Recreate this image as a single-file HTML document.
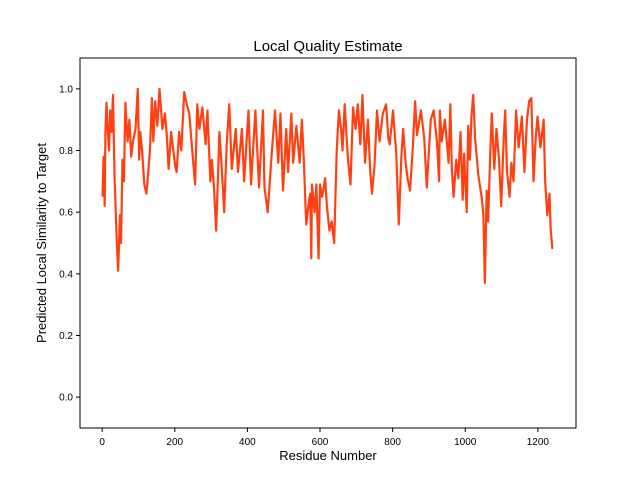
<!DOCTYPE html>
<html><head><meta charset="utf-8"><style>
body{margin:0;background:#fff}
svg{display:block;font-family:"Liberation Sans","DejaVu Sans",sans-serif}
</style></head><body>
<svg id="chart" width="640" height="480">
<rect width="640" height="480" fill="#fff"/>
<text x="328" y="51" font-size="15" text-anchor="middle">Local Quality Estimate</text>
<text x="328" y="460" font-size="13" text-anchor="middle">Residue Number</text>
<text x="46" y="243" font-size="13" text-anchor="middle" transform="rotate(-90 46 243)">Predicted Local Similarity to Target</text>
<g id="ticks"></g>
<g id="plot"></g>
<rect x="80" y="58" width="496" height="370" fill="none" stroke="#000" stroke-width="1"/>
</svg>
<script>
const residues=[1,4,7,9,12,15,19,22,26,30,34,37,40,44,49,52,56,60,64,70,75,80,85,92,98,102,105,110,116,122,127,132,137,141,146,152,158,166,173,178,183,190,201,205,212,218,226,233,240,246,256,262,268,276,285,290,298,302,308,314,323,329,336,343,350,357,368,374,385,391,403,410,416,422,432,443,447,456,467,476,485,491,498,507,512,521,526,535,544,550,555,562,570,573,576,578,585,
590,596,600,606,614,619,626,632,639,646,652,658,662,668,677,684,691,698,704,711,717,724,732,738,743,750,757,764,773,782,788,792,801,810,817,824,829,836,841,848,856,862,867,878,887,894,905,913,922,928,
930,935,944,954,959,963,968,975,981,987,993,997,1004,1008,1013,1017,1022,1027,1036,1045,1050,1054,1059,1063,1068,1073,1080,1086,1093,1099,1106,1110,1115,1122,1127,1133,1140,1147,1156,1163,1170,1176,1182,1188,1194,1199,1207,1216,1220,1226,1232,1235,1240,1243];
const scores=[0.65,0.78,0.62,0.86,0.955,0.87,0.8,0.93,0.86,0.98,0.72,0.62,0.51,0.41,0.59,0.5,0.77,0.7,0.955,0.83,0.9,0.78,0.83,0.87,1.0,0.77,0.86,0.8,0.69,0.66,0.73,0.81,0.97,0.83,0.96,0.88,1.0,0.87,0.92,0.85,0.74,0.86,0.75,0.73,0.86,0.8,0.99,0.95,0.92,0.83,0.69,0.95,0.87,0.94,0.82,0.93,0.7,0.77,0.68,0.54,0.86,0.75,0.6,0.82,0.95,0.74,0.87,0.73,0.87,0.7,0.93,0.69,0.81,0.93,0.68,0.93,0.68,0.6,0.79,0.93,0.76,0.92,0.67,0.87,0.73,0.92,0.76,0.88,0.76,0.9,0.78,0.56,0.64,0.66,0.45,0.69,0.6,
0.69,0.45,0.69,0.65,0.71,0.62,0.54,0.57,0.5,0.8,0.93,0.87,0.8,0.95,0.77,0.69,0.94,0.87,0.95,0.82,0.98,0.76,0.9,0.74,0.66,0.75,0.93,0.83,0.92,0.95,0.84,0.82,0.93,0.79,0.56,0.78,0.87,0.76,0.71,0.67,0.82,0.96,0.85,0.93,0.84,0.68,0.9,0.93,0.83,
0.7,0.93,0.83,0.9,0.76,0.95,0.74,0.65,0.77,0.71,0.86,0.64,0.79,0.6,0.88,0.77,0.91,0.98,0.84,0.72,0.65,0.59,0.37,0.67,0.57,0.76,0.92,0.74,0.87,0.77,0.62,0.84,0.93,0.73,0.65,0.76,0.7,0.93,0.81,0.91,0.73,0.9,0.96,0.97,0.7,0.84,0.91,0.81,0.9,0.7,0.59,0.66,0.55,0.48];
const xTicks=[0,200,400,600,800,1000,1200];
const yTicks=[0.0,0.2,0.4,0.6,0.8,1.0];
const xMin=-61,xMax=1305,yMin=-0.1,yMax=1.1;
const L=80,R=576,T=58,B=428;
const sx=v=>L+(v-xMin)/(xMax-xMin)*(R-L);
const sy=v=>B-(v-yMin)/(yMax-yMin)*(B-T);
const NS="http://www.w3.org/2000/svg";
const tg=document.getElementById('ticks');
xTicks.forEach(t=>{
  const x=sx(t);
  const l=document.createElementNS(NS,'line');
  l.setAttribute('x1',x);l.setAttribute('x2',x);l.setAttribute('y1',B);l.setAttribute('y2',B+4);
  l.setAttribute('stroke','#000');
  
  
  tg.appendChild(l);
  const s=document.createElementNS(NS,'text');
  s.setAttribute('x',x);s.setAttribute('y',B+17);s.setAttribute('font-size','10');s.setAttribute('text-anchor','middle');
  s.textContent=t;
  
  
  tg.appendChild(s);
});
yTicks.forEach(t=>{
  const y=sy(t);
  const l=document.createElementNS(NS,'line');
  l.setAttribute('x1',L-4);l.setAttribute('x2',L);l.setAttribute('y1',y);l.setAttribute('y2',y);
  l.setAttribute('stroke','#000');
  
  
  tg.appendChild(l);
  const s=document.createElementNS(NS,'text');
  s.setAttribute('x',L-7);s.setAttribute('y',y+3.5);s.setAttribute('font-size','10');s.setAttribute('text-anchor','end');
  s.textContent=t.toFixed(1);
  
  
  tg.appendChild(s);
});
const p=document.createElementNS(NS,'path');
p.setAttribute('d',residues.map((r,i)=>(i?'L':'M')+sx(r).toFixed(2)+' '+sy(scores[i]).toFixed(2)).join(''));
p.setAttribute('fill','none');p.setAttribute('stroke','#ff4013');p.setAttribute('stroke-width','2.2');p.setAttribute('stroke-linejoin','round');


document.getElementById('plot').appendChild(p);
</script>
</body></html>
